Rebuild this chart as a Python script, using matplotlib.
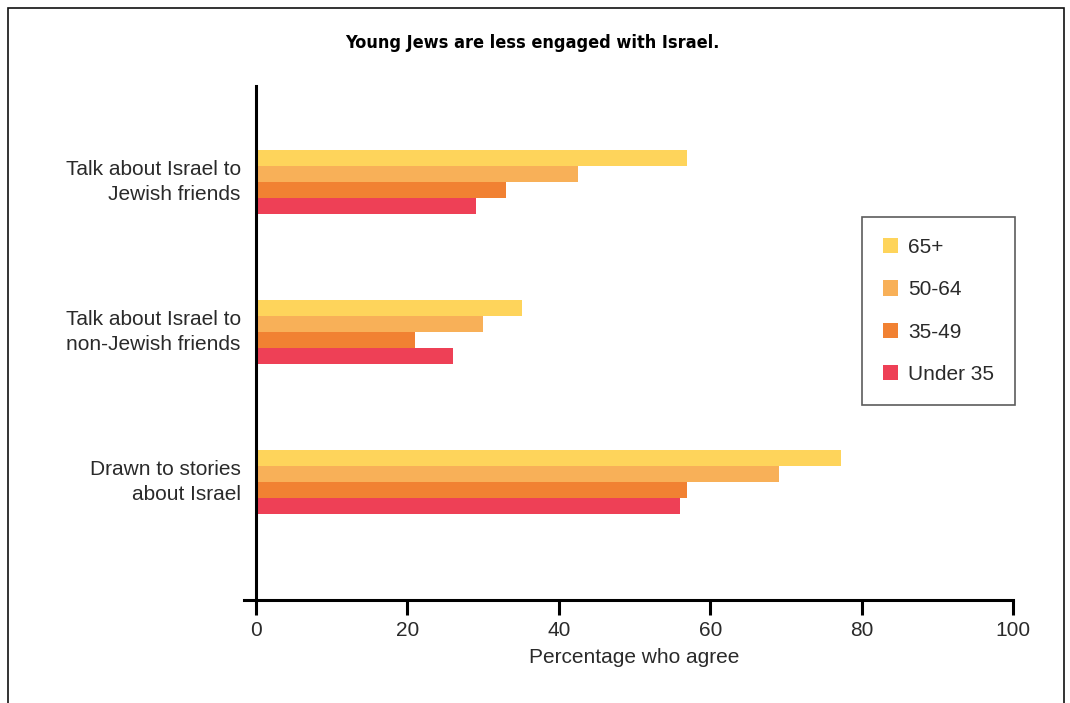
import matplotlib.pyplot as plt
import matplotlib.patches as patches
import numpy as np

# -------------------------
# DATA
# -------------------------
categories = [
    "Talk about Israel to\nJewish friends",
    "Talk about Israel to\nnon-Jewish friends",
    "Drawn to stories\nabout Israel",
]
age_groups = ["65+", "50-64", "35-49", "Under 35"]
vals_65_plus = [57, 35.2, 77.3]
vals_50_64 = [42.5, 30, 69.1]
vals_35_49 = [33, 21, 57]
vals_under_35 = [29, 26, 56]

series = [vals_65_plus, vals_50_64, vals_35_49, vals_under_35]
colors = ["#FED45B", "#F8B058", "#F18132", "#EE4056"]
x_ticks = [0, 20, 40, 60, 80, 100]

# -------------------------
# PLOT
# -------------------------
plt.rcParams["font.family"] = ["Liberation Sans", "DejaVu Sans"]
text_color = "#2a2a2a"

fig = plt.figure(figsize=(10.7, 7.03), dpi=100)
ax = fig.add_axes([256 / 1070, 1 - 600 / 703, (1013 - 256) / 1070, (600 - 86) / 703])

bar_h = 16 / 150
y = np.arange(len(categories))
for i, (vals, color, label) in enumerate(zip(series, colors, age_groups)):
    offset = (i - 1.5) * bar_h
    ax.barh(y + offset, vals, height=bar_h, color=color, label=label, linewidth=0)

ax.set_xlim(0, 100)
ax.set_ylim(2 + 118 / 150, -96 / 150)
ax.set_yticks(y)
ax.set_yticklabels(categories, fontsize=15, color=text_color, linespacing=1.45, va="center")
ax.set_xticks(x_ticks)
ax.set_xticklabels([str(t) for t in x_ticks], fontsize=15, color=text_color)
ax.tick_params(axis="y", length=0, pad=11)
ax.tick_params(axis="x", length=11, width=2.2, direction="out", pad=4)

for side in ["top", "right"]:
    ax.spines[side].set_visible(False)
ax.spines["left"].set_linewidth(2.2)
ax.spines["bottom"].set_linewidth(2.2)
ax.spines["bottom"].set_bounds(-1.6, 100)
ax.set_xlabel("Percentage who agree", fontsize=15, color=text_color, labelpad=6)

leg = ax.legend(
    loc="upper left",
    bbox_to_anchor=((862 - 256) / 757, 1 - (217 - 86) / 514),
    fontsize=15,
    frameon=True,
    fancybox=False,
    edgecolor="#333333",
    handlelength=0.75,
    handleheight=0.75,
    handletextpad=0.45,
    labelspacing=1.12,
    borderpad=1.0,
    borderaxespad=0,
)
leg.get_frame().set_linewidth(1.2)
for t in leg.get_texts():
    t.set_color(text_color)

fig.text(
    532 / 1070, 1 - 43 / 703,
    "Young Jews are less engaged with Israel.",
    ha="center", va="center", fontsize=13,
    fontweight="bold", fontstretch="condensed", family="DejaVu Sans",
)

# figure border
border = patches.Rectangle(
    (8 / 1070, -0.05), (1064 - 8) / 1070, 1.05 - 8 / 703,
    transform=fig.transFigure, fill=False, edgecolor="#111111",
    linewidth=1.2, clip_on=False,
)
fig.patches.append(border)

plt.savefig("out.png", dpi=100)
